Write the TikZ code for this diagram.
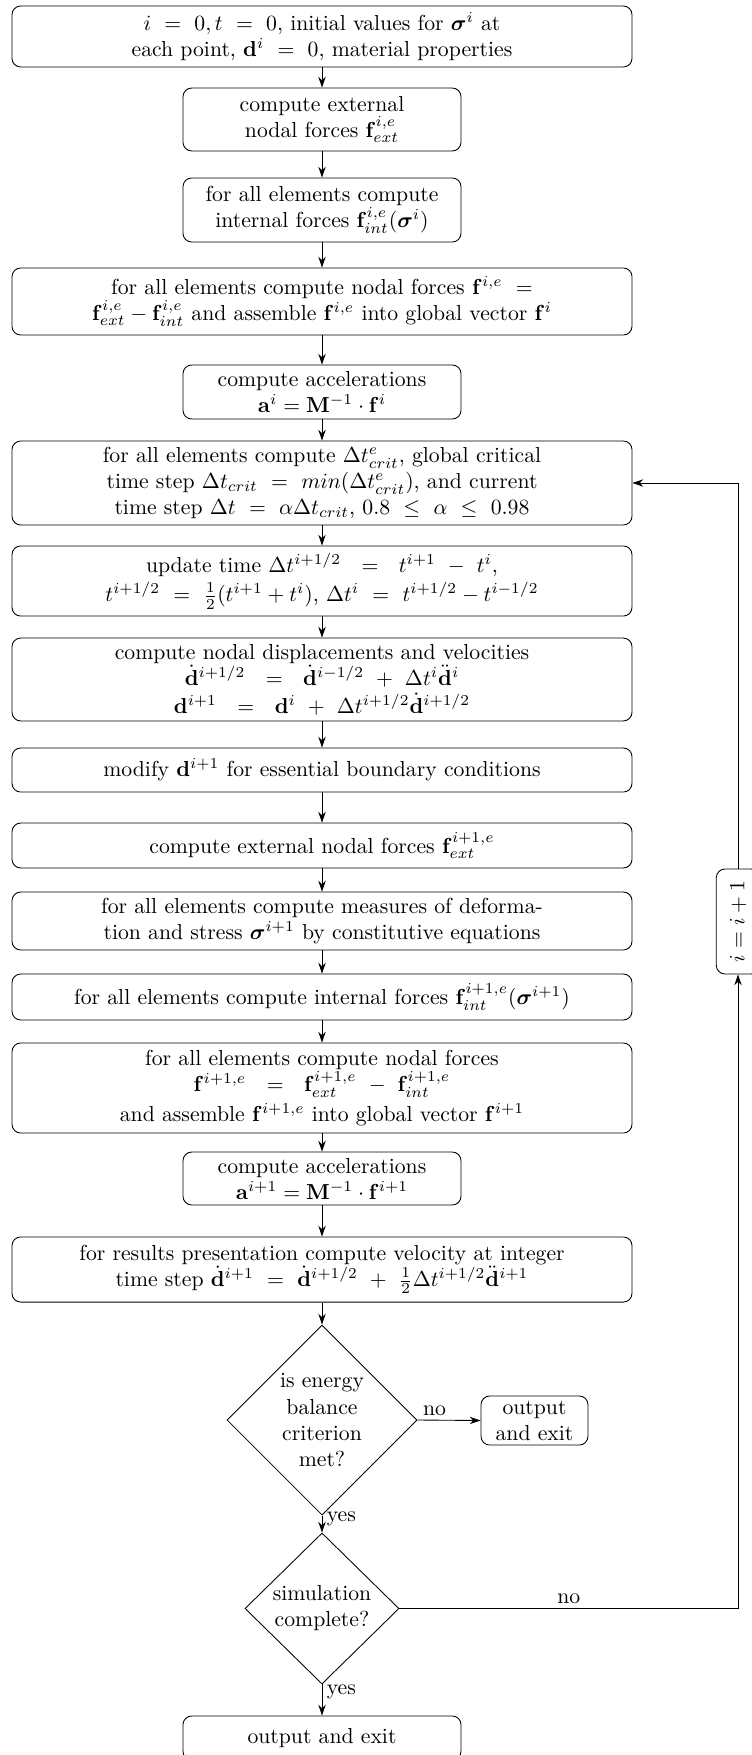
\documentclass[tikz,border=0pt]{standalone}
\usepackage{amsmath}
\usepackage{tikz}
\usetikzlibrary{positioning,calc,arrows.meta,shapes.geometric}
\tikzset{
  box/.style     ={draw, rounded corners=4pt, align=center,
                   inner xsep=3pt, inner ysep=1pt},
  widebox/.style ={box, minimum width=285.7pt},
  narrowbox/.style={box, minimum width=128.1pt},
  % yes/no tests
  decision/.style={draw, diamond, aspect=1, align=center, inner sep=0pt},
  flow/.style    ={-{Stealth[length=5pt,width=3.4pt]}},
  tag/.style     ={inner sep=2pt},
}

\begin{document}
\begin{tikzpicture}[x=0.4608pt, y=-0.4608pt]
    \useasboundingbox (0,0) rectangle (751,1755);
    % set-up and first step
    \node[widebox, minimum height=28.1pt] (init) at (322,36.5)
      {$i\ =\ 0, t\ =\ 0$, initial values for $\boldsymbol{\sigma}^i$ at\\
       each point, $\mathbf{d}^i\ =\ 0$, material properties};
    \node[narrowbox, minimum height=29pt] (extf) at (322,119.5)
      {compute external\\ nodal forces $\mathbf{f}^{i,e}_{ext}$};
    \node[narrowbox, minimum height=29.5pt] (intf) at (322,210)
      {for all elements compute\\ internal forces $\mathbf{f}^{i,e}_{int}(\boldsymbol{\sigma}^i)$};
    \node[widebox, minimum height=30.9pt] (nodf) at (322,301.5)
      {for all elements compute nodal forces $\mathbf{f}^{i,e}\ =$\\
       $\mathbf{f}^{i,e}_{ext}-\mathbf{f}^{i,e}_{int}$ and assemble $\mathbf{f}^{i,e}$ into global vector $\mathbf{f}^i$};
    \node[narrowbox, minimum height=24.9pt] (acc) at (322,392)
      {compute accelerations\\ $\mathbf{a}^i = \mathbf{M}^{-1}\cdot\mathbf{f}^i$};
    % time loop
    \node[widebox, minimum height=38.7pt] (tstep) at (322,483)
      {for all elements compute $\Delta t^e_{crit}$, global critical\\
       time step $\Delta t_{crit}\ =\ min(\Delta t^e_{crit})$, and current\\
       time step $\Delta t\ =\ \alpha\Delta t_{crit}$, $0.8\ \le\ \alpha\ \le\ 0.98$};
    \node[widebox, inner ysep=0pt, minimum height=32.3pt] (tupd) at (322,581)
      {update time $\Delta t^{i+1/2}\ \ =\ \ t^{i+1}\ -\ t^i$,\\[1.5pt]
       $t^{i+1/2}\ =\ \frac{1}{2}(t^{i+1}+t^i)$, $\Delta t^i\ =\ t^{i+1/2}-t^{i-1/2}$};
    \node[widebox, inner ysep=0pt, minimum height=38.2pt] (disp) at (322,679.5)
      {compute nodal displacements and velocities\\
       $\dot{\mathbf{d}}^{i+1/2}\ \ =\ \ \dot{\mathbf{d}}^{i-1/2}\ +\ \Delta t^i\ddot{\mathbf{d}}^i$\\[1pt]
       $\mathbf{d}^{i+1}\ \ =\ \ \mathbf{d}^i\ +\ \Delta t^{i+1/2}\dot{\mathbf{d}}^{i+1/2}$};
    \node[widebox, minimum height=20.3pt] (bc) at (322,770)
      {modify $\mathbf{d}^{i+1}$ for essential boundary conditions};
    \node[widebox, minimum height=20.7pt] (extf1) at (322,845.5)
      {compute external nodal forces $\mathbf{f}^{i+1,e}_{ext}$};
    \node[widebox, minimum height=26.7pt] (strs) at (322,921)
      {for all elements compute measures of deforma-\\
       tion and stress $\boldsymbol{\sigma}^{i+1}$ by constitutive equations};
    \node[widebox, minimum height=21.2pt] (intf1) at (322,997)
      {for all elements compute internal forces $\mathbf{f}^{i+1,e}_{int}(\boldsymbol{\sigma}^{i+1})$};
    \node[widebox, inner ysep=0pt, minimum height=41.5pt] (nodf1) at (322,1088)
      {for all elements compute nodal forces\\
       $\mathbf{f}^{i+1,e}\ \ =\ \ \mathbf{f}^{i+1,e}_{ext}\ -\ \mathbf{f}^{i+1,e}_{int}$\\[1.5pt]
       and assemble $\mathbf{f}^{i+1,e}$ into global vector $\mathbf{f}^{i+1}$};
    \node[narrowbox, minimum height=24.4pt] (acc1) at (322,1178.5)
      {compute accelerations\\ $\mathbf{a}^{i+1} = \mathbf{M}^{-1}\cdot\mathbf{f}^{i+1}$};
    \node[widebox, minimum height=30pt] (vel) at (322,1269.5)
      {for results presentation compute velocity at integer\\
       time step $\dot{\mathbf{d}}^{i+1}\ =\ \dot{\mathbf{d}}^{i+1/2}\ +\ \frac{1}{2}\Delta t^{i+1/2}\ddot{\mathbf{d}}^{i+1}$};
    % checks
    \node[decision, minimum width=87.6pt, minimum height=87.6pt] (energy) at (322,1420)
      {is energy\\ balance\\ criterion\\ met?};
    \node[box, minimum width=49.3pt, minimum height=22.6pt] (outa) at (534.5,1420.5)
      {output\\ and exit};
    \node[decision, minimum width=71pt, minimum height=69.6pt] (simdone) at (322,1608.5)
      {simulation\\ complete?};
    \node[narrowbox, minimum height=20.3pt] (outb) at (322,1738) {output and exit};
    \node[box, inner sep=2pt, minimum width=20pt, minimum height=48.4pt] (incr) at (738,921.5)
      {\rotatebox{90}{$i = i + 1$}};
    % arrows down the column
    \draw[flow] (init) -- (extf);
    \draw[flow] (extf) -- (intf);
    \draw[flow] (intf) -- (nodf);
    \draw[flow] (nodf) -- (acc);
    \draw[flow] (acc) -- (tstep);
    \draw[flow] (tstep) -- (tupd);
    \draw[flow] (tupd) -- (disp);
    \draw[flow] (disp) -- (bc);
    \draw[flow] (bc) -- (extf1);
    \draw[flow] (extf1) -- (strs);
    \draw[flow] (strs) -- (intf1);
    \draw[flow] (intf1) -- (nodf1);
    \draw[flow] (nodf1) -- (acc1);
    \draw[flow] (acc1) -- (vel);
    \draw[flow] (vel) -- (energy);
    \draw[flow] (energy.east) -- node[tag, above, pos=0.27] {no} (outa.west);
    \draw[flow] (energy.south) -- node[tag, anchor=west, pos=0.2] {yes} (simdone.north);
    \draw[flow] (simdone.south) -- node[tag, anchor=west, pos=0.25] {yes} (outb.north);
    % back to the time step
    \draw[flow] (simdone.east) -| node[tag, above, pos=0.25] {no} (incr.south);
    \draw[flow] (incr.north) |- (tstep.east);
  \end{tikzpicture}
\end{document}
